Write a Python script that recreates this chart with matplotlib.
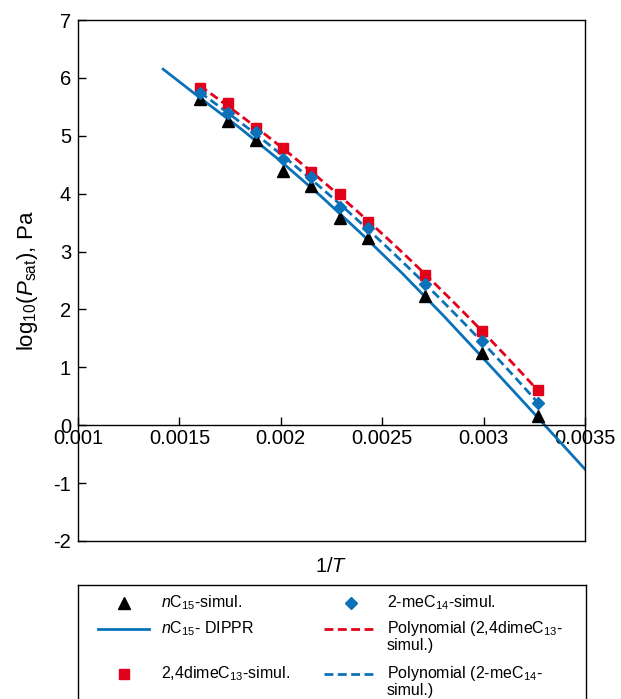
import numpy as np
import matplotlib
matplotlib.use("Agg")
import matplotlib.pyplot as plt

plt.rcParams['font.family'] = ['Liberation Sans', 'DejaVu Sans']
plt.rcParams['mathtext.fontset'] = 'custom'
plt.rcParams['mathtext.rm'] = 'Liberation Sans'
plt.rcParams['mathtext.it'] = 'Liberation Sans:italic'
plt.rcParams['axes.unicode_minus'] = False

# 1/T values of the simulated points
inv_T = [0.00160, 0.00174, 0.00188, 0.00201, 0.00215, 0.00229, 0.00243, 0.00271, 0.00299, 0.00327]
nc15_sim = [5.64, 5.26, 4.93, 4.40, 4.13, 3.58, 3.24, 2.24, 1.24, 0.16]
me14_sim = [5.74, 5.39, 5.07, 4.60, 4.29, 3.77, 3.41, 2.44, 1.45, 0.38]
dime13_sim = [5.82, 5.57, 5.13, 4.79, 4.37, 3.99, 3.51, 2.60, 1.63, 0.60]

# DIPPR correlation for nC15
dippr_x = [0.00142, 0.0016, 0.0018, 0.0020, 0.0022, 0.0024, 0.0026, 0.0028, 0.0030, 0.0032, 0.0035]
dippr_y = [6.15, 5.66, 5.13, 4.56, 3.95, 3.30, 2.62, 1.90, 1.15, 0.39, -0.76]

BLUE = '#0B72BA'
RED = '#E2001A'

fig = plt.figure(figsize=(6.21, 6.99), dpi=100)
ax = fig.add_axes([78/621, 1-541/699, (585-78)/621, (541-20)/699])

# polynomial trendlines (2nd order) through simulated points
xs = np.linspace(inv_T[0], inv_T[-1], 100)
p_red = np.polyfit(inv_T, dime13_sim, 2)
p_blue = np.polyfit(inv_T, me14_sim, 2)

ax.plot(dippr_x, dippr_y, color=BLUE, lw=2, zorder=2)
ax.plot(xs, np.polyval(p_red, xs), color=RED, lw=2, dashes=(3.2, 1.6), zorder=2)
ax.plot(xs, np.polyval(p_blue, xs), color=BLUE, lw=2, dashes=(3.2, 1.6), zorder=2)
ax.plot(inv_T, nc15_sim, '^', color='black', ms=8, zorder=3)
ax.plot(inv_T, dime13_sim, 's', color=RED, ms=6.5, zorder=3)
ax.plot(inv_T, me14_sim, 'D', color=BLUE, ms=6, zorder=4)

ax.set_xlim(0.001, 0.0035)
ax.set_ylim(-2, 7)
ax.set_xticks([0.001, 0.0015, 0.002, 0.0025, 0.003, 0.0035])
ax.set_xticklabels(['0.001', '0.0015', '0.002', '0.0025', '0.003', '0.0035'])
ax.set_yticks(range(-2, 8))
ax.spines['bottom'].set_position(('data', 0))
for s in ax.spines.values():
    s.set_linewidth(1)
ax.plot([0, 1], [0, 0], transform=ax.transAxes, color='black', lw=1, clip_on=False)
ax.tick_params(axis='both', direction='in', length=6, width=1, labelsize=14.5)
ax.tick_params(axis='x', pad=3)
ax.tick_params(axis='y', pad=5)

ax.set_xlabel('1/$T$', fontsize=14.5)
ax.xaxis.set_label_coords(0.5, -0.03)
ax.set_ylabel('log$_{10}$($P_{\\rm sat}$), Pa', fontsize=16)
ax.yaxis.set_label_coords(-0.075, 0.5)

# legend box below the plot, drawn in pixel coordinates
lg = fig.add_axes([78/621, -2/699, (586-78)/621, (701-585)/699])
lg.set_xlim(78, 586)
lg.set_ylim(701, 585)
lg.set_xticks([])
lg.set_yticks([])
for s in lg.spines.values():
    s.set_linewidth(1)

fs = 11.5
lg.plot([124], [603], '^', color='black', ms=8)
lg.text(161, 603, '$n$C$_{15}$-simul.', fontsize=fs, va='center')
lg.plot([98, 149], [629, 629], color=BLUE, lw=2)
lg.text(161, 629, '$n$C$_{15}$- DIPPR', fontsize=fs, va='center')
lg.plot([124], [674], 's', color=RED, ms=6.5)
lg.text(161, 674, '2,4dimeC$_{13}$-simul.', fontsize=fs, va='center')

lg.plot([351], [603], 'D', color=BLUE, ms=6)
lg.text(387, 603, '2-meC$_{14}$-simul.', fontsize=fs, va='center')
lg.plot([324, 375], [629, 629], color=RED, lw=2, dashes=(3.2, 1.6))
lg.text(387, 629, 'Polynomial (2,4dimeC$_{13}$-', fontsize=fs, va='center')
lg.text(387, 646, 'simul.)', fontsize=fs, va='center')
lg.plot([324, 375], [674, 674], color=BLUE, lw=2, dashes=(3.2, 1.6))
lg.text(387, 674, 'Polynomial (2-meC$_{14}$-', fontsize=fs, va='center')
lg.text(387, 691, 'simul.)', fontsize=fs, va='center')

fig.savefig('out.png', dpi=100)
